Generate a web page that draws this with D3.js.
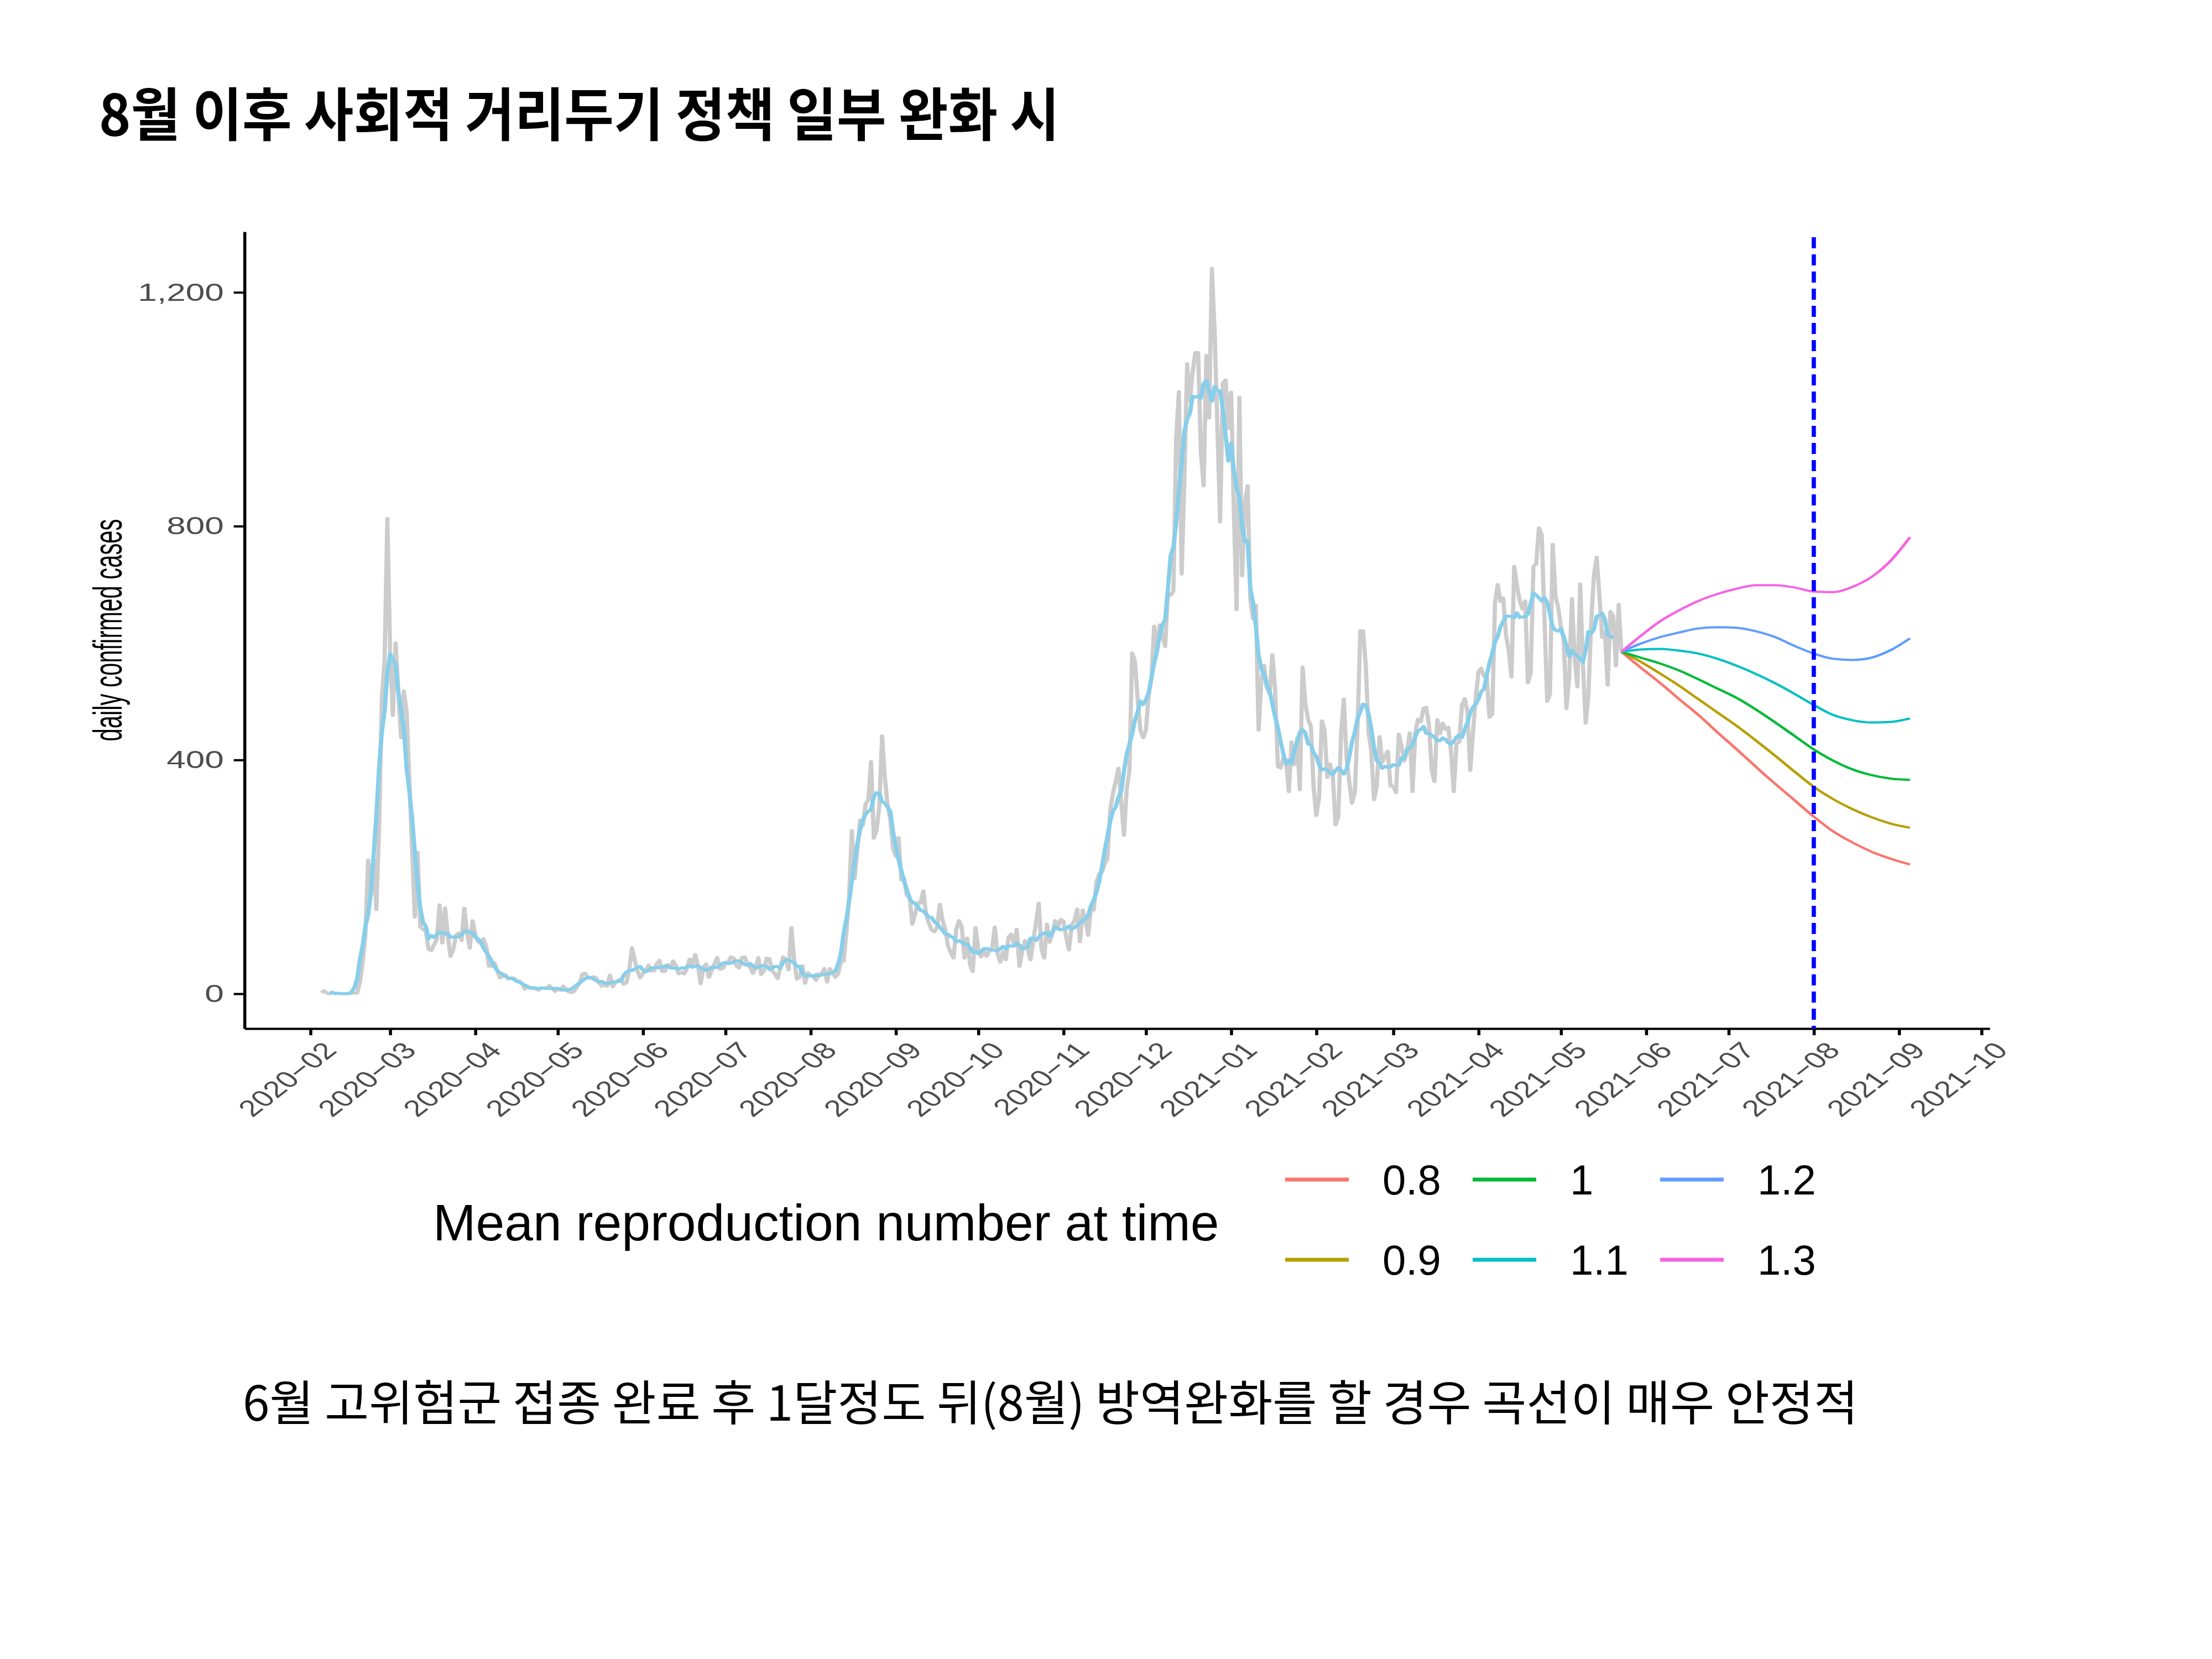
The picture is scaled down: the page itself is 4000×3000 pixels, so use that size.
<!DOCTYPE html>
<html>
<head>
<meta charset="utf-8">
<script src="https://cdn.jsdelivr.net/npm/d3@7"></script>
<style>
  html, body { margin: 0; padding: 0; background: #fff; }
  svg { display: block; }
</style>
</head>
<body>
<svg id="chart" width="4000" height="3000"></svg>
<script>
// ---- data ----
const titleText = "8월 이후 사회적 거리두기 정책 일부 완화 시";
const captionText = "6월 고위험군 접종 완료 후 1달정도 뒤(8월) 방역완화를 할 경우 곡선이 매우 안정적";
const yTitle = "daily confirmed cases";
const legendTitle = "Mean reproduction number at time";

// daily confirmed cases, one value per day from startDate
const startDate = "2020-02-05";
const cases2020Feb = [2, 5, 1, 0, 3, 0, 1, 0, 0, 0, 0, 1, 1, 1, 20, 53, 100, 229, 169, 231, 144, 284, 505, 571, 813];
const cases2020Mar = [586, 476, 600, 516, 438, 518, 483, 367, 248, 131, 242, 114, 110, 107, 76, 74, 84, 93, 152, 87, 147, 98, 64, 76, 100, 104, 91, 146, 105, 78, 125];
const cases2020Apr = [101, 89, 86, 94, 81, 47, 47, 53, 39, 27, 30, 32, 25, 27, 27, 22, 22, 18, 8, 13, 9, 11, 8, 6, 10, 10, 10, 14, 9, 4];
const cases2020May = [9, 6, 13, 8, 3, 2, 4, 12, 18, 34, 35, 27, 26, 29, 27, 19, 13, 15, 13, 32, 12, 20, 23, 25, 16, 19, 40, 79, 58, 39, 27];
const cases2020Jun = [35, 38, 49, 39, 39, 51, 57, 38, 38, 50, 45, 56, 48, 34, 37, 34, 43, 59, 49, 67, 48, 17, 46, 51, 28, 39, 51, 62, 42, 43];
const cases2020Jul = [51, 54, 63, 61, 48, 44, 62, 63, 50, 45, 35, 44, 62, 33, 39, 61, 60, 39, 34, 26, 45, 63, 59, 41, 113, 58, 25, 28, 48, 18, 36];
const cases2020Aug = [31, 30, 23, 34, 33, 43, 20, 43, 36, 28, 34, 54, 56, 103, 166, 279, 197, 246, 297, 288, 324, 332, 397, 266, 280, 320, 441, 371, 323, 299, 248];
const cases2020Sep = [235, 267, 195, 198, 168, 167, 119, 136, 156, 155, 176, 136, 121, 109, 106, 113, 153, 126, 110, 82, 70, 61, 110, 125, 114, 61, 95, 50, 38, 113];
const cases2020Oct = [77, 63, 75, 64, 73, 75, 114, 69, 54, 72, 58, 97, 102, 84, 110, 47, 73, 91, 76, 58, 91, 121, 155, 77, 61, 119, 88, 103, 125, 114, 127];
const cases2020Nov = [124, 97, 75, 118, 125, 145, 89, 143, 126, 100, 146, 143, 191, 205, 208, 223, 230, 313, 343, 363, 386, 330, 271, 349, 382, 583, 569, 504, 450, 438];
const cases2020Dec = [451, 511, 540, 629, 583, 631, 615, 594, 686, 682, 689, 950, 1030, 718, 880, 1078, 1014, 1064, 1097, 1097, 926, 869, 1092, 985, 1241, 1132, 970, 807, 1045, 1050, 967];
const cases2021Jan = [1029, 824, 657, 1020, 715, 840, 869, 674, 641, 665, 451, 537, 562, 524, 513, 580, 520, 389, 386, 404, 400, 346, 431, 392, 437, 349, 559, 497, 469, 458, 355];
const cases2021Feb = [305, 336, 467, 451, 370, 393, 372, 289, 303, 444, 504, 403, 362, 326, 344, 457, 621, 621, 561, 448, 416, 332, 356, 440, 396, 406, 415, 355];
const cases2021Mar = [355, 344, 444, 424, 398, 416, 446, 346, 446, 470, 465, 488, 490, 459, 382, 363, 469, 445, 463, 452, 456, 415, 346, 428, 430, 494, 505, 482, 382, 447, 506];
const cases2021Apr = [551, 557, 543, 543, 473, 478, 668, 700, 671, 677, 614, 587, 542, 731, 698, 673, 658, 672, 532, 549, 731, 735, 797, 785, 644, 500, 512, 769, 680, 661];
const cases2021May = [627, 606, 488, 541, 676, 574, 525, 701, 564, 463, 511, 635, 715, 747, 681, 610, 619, 528, 654, 646, 561, 666, 585];

// projected daily cases per scenario, one value per week from projectionStart
const projectionStart = "2021-05-23";
const projectionStepDays = 7;
const scenarioLabels = ["0.8", "0.9", "1", "1.1", "1.2", "1.3"];
const proj08 = [585, 558, 532, 504, 477, 447, 418, 388, 359, 331, 303, 278, 259, 243, 231, 221];
const proj09 = [585, 568, 548, 527, 504, 481, 458, 433, 407, 380, 354, 333, 316, 302, 291, 284];
const proj10 = [585, 575, 565, 553, 538, 522, 506, 486, 464, 441, 418, 399, 384, 374, 368, 366];
const proj11 = [585, 589, 590, 587, 582, 573, 561, 547, 531, 513, 494, 477, 468, 464, 465, 471];
const proj12 = [585, 599, 610, 618, 625, 627, 626, 620, 610, 595, 582, 573, 571, 575, 588, 608];
const proj13 = [585, 612, 637, 656, 672, 684, 693, 699, 699, 695, 688, 687, 696, 713, 741, 781];

const yTickValues = [0, 400, 800, 1200];
const reliefDate = "2021-08-01";

// ---- look ----
const colors = {
  daily: "#cccccc",
  smooth: "#87ceeb",
  relief: "#0000ff",
  axis: "#000000",
  tickText: "#4d4d4d",
  scenarios: ["#f8766d", "#b79f00", "#00ba38", "#00bfc4", "#619cff", "#f564e3"],
};
const latin = "'Liberation Sans', Arial, Helvetica, sans-serif";
const hangul = "'Noto Sans CJK KR', 'Noto Sans', sans-serif";

// the plot in the reference is a horizontally stretched image
const STRETCH = 1.38;
const panel = { left: 442, right: 3598, top: 419, bottom: 1860 };

const parse = d3.utcParse("%Y-%m-%d");

const dailyValues = [].concat(
  cases2020Feb, cases2020Mar, cases2020Apr, cases2020May, cases2020Jun, cases2020Jul,
  cases2020Aug, cases2020Sep, cases2020Oct, cases2020Nov, cases2020Dec,
  cases2021Jan, cases2021Feb, cases2021Mar, cases2021Apr, cases2021May
);
const daily = dailyValues.map((v, i) => ({ date: d3.utcDay.offset(parse(startDate), i), value: v }));

// centred 7-day mean of the daily series (the blue line of the source)
const smooth = daily
  .map((d, i) => {
    if (i < 3 || i > daily.length - 4) return null;
    return { date: d.date, value: d3.mean(daily.slice(i - 3, i + 4), (e) => e.value) };
  })
  .filter((d) => d !== null);

const projections = [proj08, proj09, proj10, proj11, proj12, proj13].map((vals, s) => ({
  label: scenarioLabels[s],
  color: colors.scenarios[s],
  points: vals.map((v, i) => ({
    date: d3.utcDay.offset(parse(projectionStart), i * projectionStepDays),
    value: v,
  })),
}));

const svg = d3.select("#chart");
svg.append("rect").attr("width", 4000).attr("height", 3000).attr("fill", "#fff");

const plot = svg.append("g").attr("transform", `scale(${STRETCH},1)`);

const x = d3
  .scaleUtc()
  .domain([parse("2020-01-08"), parse("2021-10-04")])
  .range([panel.left / STRETCH, panel.right / STRETCH]);
const y = d3.scaleLinear().domain([-59.6, 1303.7]).range([panel.bottom, panel.top]);

const line = d3
  .line()
  .x((d) => x(d.date))
  .y((d) => y(d.value));

plot
  .append("path")
  .datum(daily)
  .attr("fill", "none")
  .attr("stroke", colors.daily)
  .attr("stroke-width", 5.5)
  .attr("stroke-linejoin", "round")
  .attr("d", line);

plot
  .append("path")
  .datum(smooth)
  .attr("fill", "none")
  .attr("stroke", colors.smooth)
  .attr("stroke-width", 5.5)
  .attr("stroke-linejoin", "round")
  .attr("d", line);

const projLine = d3
  .line()
  .curve(d3.curveMonotoneX)
  .x((d) => x(d.date))
  .y((d) => y(d.value));

plot
  .append("g")
  .selectAll("path")
  .data(projections)
  .join("path")
  .attr("fill", "none")
  .attr("stroke", (d) => d.color)
  .attr("stroke-width", 4)
  .attr("d", (d) => projLine(d.points));

// axes
const xAxis = d3
  .axisBottom(x)
  .ticks(d3.utcMonth.every(1))
  .tickFormat(d3.utcFormat("%Y\u2212%m"))
  .tickSize(12)
  .tickSizeOuter(0);

const gx = plot.append("g").attr("transform", `translate(0,${panel.bottom})`).call(xAxis);
gx.select(".domain").attr("stroke", colors.axis).attr("stroke-width", 4);
gx.selectAll(".tick line").attr("stroke", colors.axis).attr("stroke-width", 4);
gx.selectAll(".tick text")
  .attr("x", 0)
  .attr("y", 0)
  .attr("dy", "0.71em")
  .attr("text-anchor", "end")
  .attr("transform", "translate(14,21) rotate(-47)")
  .attr("fill", colors.tickText)
  .style("font-family", latin)
  .style("font-size", "42px");

const yAxis = d3
  .axisLeft(y)
  .tickValues(yTickValues)
  .tickFormat(d3.format(","))
  .tickSize(14)
  .tickPadding(13)
  .tickSizeOuter(0);

const gy = plot.append("g").attr("transform", `translate(${panel.left / STRETCH},0)`).call(yAxis);
gy.select(".domain").attr("stroke", colors.axis).attr("stroke-width", 4);
gy.selectAll(".tick line").attr("stroke", colors.axis).attr("stroke-width", 4);
gy.selectAll(".tick text")
  .attr("fill", colors.tickText)
  .style("font-family", latin)
  .style("font-size", "45px");

plot
  .append("text")
  .attr("transform", `translate(${195 / STRETCH},${(panel.top + panel.bottom) / 2}) rotate(-90)`)
  .attr("text-anchor", "middle")
  .attr("dy", "0.35em")
  .attr("textLength", 402)
  .attr("lengthAdjust", "spacingAndGlyphs")
  .style("font-family", latin)
  .style("font-size", "52px")
  .attr("fill", "#000")
  .text(yTitle);

// dashed line at the relief date
plot
  .append("line")
  .attr("x1", x(parse(reliefDate)))
  .attr("x2", x(parse(reliefDate)))
  .attr("y1", panel.top + 10)
  .attr("y2", panel.bottom)
  .attr("stroke", colors.relief)
  .attr("stroke-width", 5.5)
  .attr("stroke-dasharray", "20,11");

// title and caption
svg
  .append("text")
  .attr("x", 179)
  .attr("y", 246)
  .attr("textLength", 1737)
  .attr("lengthAdjust", "spacingAndGlyphs")
  .style("font-family", hangul)
  .style("font-weight", 700)
  .style("font-size", "104px")
  .attr("fill", "#000")
  .text(titleText);

svg
  .append("text")
  .attr("x", 439)
  .attr("y", 2569)
  .attr("textLength", 2921)
  .attr("lengthAdjust", "spacingAndGlyphs")
  .style("font-family", hangul)
  .style("font-weight", 400)
  .style("font-size", "87px")
  .attr("fill", "#000")
  .text(captionText);

// legend
const legend = svg.append("g");
legend
  .append("text")
  .attr("x", 783)
  .attr("y", 2243)
  .style("font-family", latin)
  .style("font-size", "93px")
  .attr("fill", "#000")
  .text(legendTitle);

const colX = [2324, 2663, 3002];
const rowY = [2133, 2278];
const keys = legend
  .selectAll("g.key")
  .data(projections)
  .join("g")
  .attr("class", "key")
  .attr("transform", (d, i) => `translate(${colX[Math.floor(i / 2)]},${rowY[i % 2]})`);
keys
  .append("line")
  .attr("x1", 0)
  .attr("x2", 115)
  .attr("stroke", (d) => d.color)
  .attr("stroke-width", 7);
keys
  .append("text")
  .attr("x", 176)
  .attr("dy", "0.36em")
  .style("font-family", latin)
  .style("font-size", "76px")
  .attr("fill", "#000")
  .text((d) => d.label);
</script>
</body>
</html>
